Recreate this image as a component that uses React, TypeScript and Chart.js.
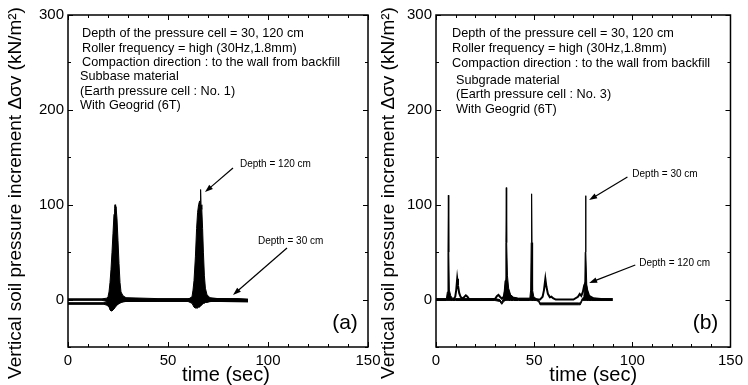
import React, { useEffect, useRef } from "react";
import { Chart, registerables } from "chart.js";

Chart.register(...registerables);

const FONT = '"Liberation Sans", Arial, Helvetica, sans-serif';

// ---- axes ----
const xMin = 0;
const xMax = 150;
const xStep = 10;
const xLabelValues = [0, 50, 100, 150];
const yMin = -50;
const yMax = 300;
const yStep = 50;
const yLabelValues = [0, 100, 200, 300];
const xTitle = "time (sec)";
const yTitle = "Vertical soil pressure increment Δσv (kN/m²)";

// ---- panel (a): envelope of dense oscillating records ----
const tA1 = [0, 17, 19.5, 20, 20.5, 21, 21.5, 22, 22.5, 23, 23.3, 23.5, 23.8, 24, 24.5, 25, 25.5, 26, 26.5, 27.5, 29, 45, 60, 63, 65, 67, 69, 72, 85, 90];
const hiA1 = [0.8, 0.8, 1.5, 3, 8, 18, 32, 50, 70, 90, 96, 100, 92, 98, 85, 62, 38, 18, 8, 4, 2, 1, 1, 2, 4, 3, 2, 1, 1, 0.5];
const loA1 = [-0.8, -0.8, -2, -4, -7, -11, -12, -12, -10, -8, -7, -7, -6, -6, -5, -5, -4, -4, -3, -2.5, -2, -1.5, -1.5, -3, -5, -4, -2.5, -2, -2, -2];

const tA2 = [0, 18, 19.5, 21, 22, 23, 24, 25, 26, 28, 40, 60, 62, 62.5, 63, 63.7, 64.3, 64.8, 65.3, 65.8, 66.1, 66.3, 66.5, 66.9, 67.3, 67.7, 68.2, 68.7, 69.5, 71, 75, 90];
const hiA2 = [-3.3, -3.3, -2.5, -1, 1, 2, 2, 2, 1, 0, 0, 0, 3, 10, 20, 45, 75, 92, 100, 104, 100, 116, 100, 95, 75, 50, 25, 12, 5, 2, 1, 0];
const loA2 = [-5, -5, -6, -9, -12, -10, -7, -5, -3, -2, -2, -2, -4, -6, -8, -9, -9, -9, -8, -8, -7, -7, -6, -6, -5, -4, -4, -3, -3, -2, -2, -2.5];

// ---- panel (b) ----
const tB30 = [0, 5.3, 5.8, 6.1, 6.3, 6.5, 6.8, 7.5, 8.3, 10, 30, 32.5, 33.5, 34.5, 35.2, 35.6, 35.8, 36.0, 36.4, 37, 38, 39.5, 42, 47.8, 48.2, 48.5, 48.7, 48.9, 49.2, 49.8, 51, 52.2, 53, 72.5, 73.5, 74.5, 75.3, 75.8, 76.0, 76.2, 76.4, 76.8, 77.5, 79, 82, 90];
const hiB30 = [1, 1, 8, 50, 110, 50, 10, 4, 1.5, 1, 1, 0, -3, 2, 20, 60, 118, 60, 25, 12, 5, 2.5, 1.5, 1.5, 10, 60, 111.5, 60, 10, 3, 1, 0, -3.5, -3.5, -3.5, 1, 3, 15, 50, 109.5, 50, 15, 5, 2, 1, 1];
const loB30 = [-1, -1, -1, -1, -1, -1, -1, -1, -1, -1, -1, -2, -5, -2, -1, -1, -1, -1, -1, -1, -1, -1, -1, -1, -1, -1, -1, -1, -1, -1, -1, -2, -5.5, -5.5, -5.5, -1, -1, -1, -1, -1, -1, -1, -1, -1, -1, -1];

const tB120 = [0, 8.8, 9.8, 10.3, 10.8, 11.2, 11.8, 12.5, 13.5, 14.5, 15.2, 16, 17, 25, 30, 31, 31.8, 32.6, 33.5, 34.5, 35.3, 35.8, 36.5, 37.5, 39, 42, 53, 54.3, 55.0, 55.7, 56.2, 57, 58, 58.8, 59.6, 61, 70, 72.3, 73.2, 74, 74.8, 75.5, 76.2, 77, 78, 80, 84, 90];
const vB120 = [0, 0, 3, 10, 22, 15, 7, 3, 1, 3, 4.5, 3, 0, 0, 0.5, 3.5, 5, 3, 1, 3, 10, 18, 10, 5, 2, 0.5, 0, 3, 10, 22, 14, 6, 2.5, 3, 1.5, 0, 0, 3, 6, 4, 8, 15, 18, 10, 4, 1.5, 0.5, 0];

// ---- annotations ----
const commonNotes = [
  "Depth of the pressure cell = 30, 120 cm",
  "Roller frequency = high (30Hz,1.8mm)",
  "Compaction direction : to the wall from backfill",
];
const notesA = [...commonNotes, "Subbase material", "(Earth pressure cell : No. 1)", "With Geogrid (6T)"];
const notesB = [...commonNotes, "Subgrade material", "(Earth pressure cell : No. 3)", "With Geogrid (6T)"];

type Arrow = { label: string; labelAt: [number, number]; from: [number, number]; to: [number, number] };
const arrowsA: Arrow[] = [
  { label: "Depth = 120 cm", labelAt: [86, 143], from: [82.5, 138.7], to: [68.5, 113.4] },
  { label: "Depth = 30 cm", labelAt: [95, 62], from: [109.5, 54.4], to: [82.5, 4.8] },
];
const arrowsB: Arrow[] = [
  { label: "Depth = 30 cm", labelAt: [100, 132.4], from: [97.5, 129.2], to: [78, 105] },
  { label: "Depth = 120 cm", labelAt: [103.5, 38.6], from: [101.5, 36.5], to: [78, 17.5] },
];

type PanelSpec = {
  tag: string;
  notes: string[];
  noteDx: number[];
  noteDy: number[];
  arrows: Arrow[];
  yTitleX: number;
  yTitleY: number;
  xTitleShift: number;
  tagDx: number;
  tagDy: number;
};

const pts = (t: number[], v: number[]) => t.map((x, i) => ({ x, y: v[i] }));

function decorPlugin(p: PanelSpec) {
  return {
    id: "decor" + p.tag.replace(/\W/g, ""),
    afterDraw(chart: any) {
      const { ctx, chartArea: ca } = chart;
      const xs = chart.scales.x;
      const ys = chart.scales.y;
      ctx.save();
      ctx.strokeStyle = "#000";
      ctx.fillStyle = "#000";
      // frame
      ctx.lineWidth = 1.5;
      ctx.strokeRect(ca.left, ca.top, ca.right - ca.left, ca.bottom - ca.top);
      // inward ticks
      ctx.lineWidth = 1;
      ctx.beginPath();
      xs.ticks.forEach((t: any) => {
        const px = Math.round(xs.getPixelForValue(t.value)) + 0.5;
        const len = t.value % 50 === 0 ? 5 : 3;
        ctx.moveTo(px, ca.bottom);
        ctx.lineTo(px, ca.bottom - len);
        ctx.moveTo(px, ca.top);
        ctx.lineTo(px, ca.top + len);
      });
      ys.ticks.forEach((t: any) => {
        const py = Math.round(ys.getPixelForValue(t.value)) + 0.5;
        const len = t.value % 100 === 0 ? 5 : 3;
        ctx.moveTo(ca.left, py);
        ctx.lineTo(ca.left + len, py);
        ctx.moveTo(ca.right, py);
        ctx.lineTo(ca.right - len, py);
      });
      ctx.stroke();
      // notes
      ctx.font = `12.7px ${FONT}`;
      ctx.textAlign = "left";
      ctx.textBaseline = "middle";
      p.notes.forEach((n, i) => ctx.fillText(n, ca.left + p.noteDx[i], ca.top + p.noteDy[i]));
      // arrows
      p.arrows.forEach((a) => {
        const x0 = xs.getPixelForValue(a.from[0]);
        const y0 = ys.getPixelForValue(a.from[1]);
        const x1 = xs.getPixelForValue(a.to[0]);
        const y1 = ys.getPixelForValue(a.to[1]);
        const ang = Math.atan2(y1 - y0, x1 - x0);
        const hl = 8;
        const hw = 2.8;
        ctx.lineWidth = 1.2;
        ctx.beginPath();
        ctx.moveTo(x0, y0);
        ctx.lineTo(x1 - Math.cos(ang) * hl * 0.8, y1 - Math.sin(ang) * hl * 0.8);
        ctx.stroke();
        ctx.beginPath();
        ctx.moveTo(x1, y1);
        ctx.lineTo(x1 - Math.cos(ang) * hl - Math.sin(ang) * hw, y1 - Math.sin(ang) * hl + Math.cos(ang) * hw);
        ctx.lineTo(x1 - Math.cos(ang) * hl + Math.sin(ang) * hw, y1 - Math.sin(ang) * hl - Math.cos(ang) * hw);
        ctx.closePath();
        ctx.fill();
        ctx.font = `10px ${FONT}`;
        ctx.textAlign = "left";
        ctx.fillText(a.label, xs.getPixelForValue(a.labelAt[0]), ys.getPixelForValue(a.labelAt[1]));
      });
      // panel tag
      ctx.font = `21px ${FONT}`;
      ctx.textAlign = "center";
      ctx.fillText(p.tag, ca.right + p.tagDx, ca.bottom + p.tagDy);
      // x title
      ctx.font = `20px ${FONT}`;
      ctx.fillText(xTitle, (ca.left + ca.right) / 2 + p.xTitleShift, 375);
      // y title
      ctx.translate(p.yTitleX, p.yTitleY);
      ctx.rotate(-Math.PI / 2);
      ctx.font = `19px ${FONT}`;
      ctx.fillText(yTitle, 0, 0);
      ctx.restore();
    },
  };
}

function makeConfig(datasets: any[], p: PanelSpec, yWidth: number, padRight: number) {
  return {
    type: "line",
    data: { datasets },
    options: {
      animation: false,
      responsive: false,
      maintainAspectRatio: false,
      devicePixelRatio: 1,
      layout: { padding: { top: 15, right: padRight, left: 0, bottom: 0 } },
      plugins: { legend: { display: false }, tooltip: { enabled: false } },
      elements: { point: { radius: 0 }, line: { tension: 0 } },
      scales: {
        x: {
          type: "linear",
          min: xMin,
          max: xMax,
          grid: { display: false, drawTicks: false },
          border: { display: false },
          afterFit: (s: any) => {
            s.height = 38;
          },
          ticks: {
            stepSize: xStep,
            autoSkip: false,
            maxRotation: 0,
            padding: 5,
            color: "#000",
            font: { family: FONT, size: 15 },
            callback: (v: any) => (xLabelValues.includes(Number(v)) ? String(v) : ""),
          },
        },
        y: {
          type: "linear",
          min: yMin,
          max: yMax,
          grid: { display: false, drawTicks: false },
          border: { display: false },
          afterFit: (s: any) => {
            s.width = yWidth;
          },
          ticks: {
            stepSize: yStep,
            autoSkip: false,
            padding: 4,
            color: "#000",
            font: { family: FONT, size: 15 },
            callback: (v: any) => (yLabelValues.includes(Number(v)) ? String(v) : ""),
          },
        },
      },
    },
    plugins: [decorPlugin(p)],
  };
}

const band = (t: number[], hi: number[], lo: number[], label: string) => [
  {
    label: label + " upper",
    data: pts(t, hi),
    borderColor: "#000",
    backgroundColor: "#000",
    borderWidth: 1,
    fill: "+1",
    pointRadius: 0,
  },
  {
    label: label + " lower",
    data: pts(t, lo),
    borderColor: "#000",
    borderWidth: 1,
    fill: false,
    pointRadius: 0,
  },
];

const panelA: PanelSpec = {
  tag: "(a)",
  notes: notesA,
  noteDx: [14, 14, 14, 12, 12, 12],
  noteDy: [18, 33, 47, 61, 76, 90],
  arrows: arrowsA,
  yTitleX: 16,
  yTitleY: 193,
  xTitleShift: 8,
  tagDx: -23,
  tagDy: -24,
};

const panelB: PanelSpec = {
  tag: "(b)",
  notes: notesB,
  noteDx: [16, 16, 16, 20, 20, 20],
  noteDy: [18, 33, 48, 65, 79, 94],
  arrows: arrowsB,
  yTitleX: 15,
  yTitleY: 193,
  xTitleShift: 10,
  tagDx: -25,
  tagDy: -24,
};

export default function App() {
  const refA = useRef<HTMLCanvasElement | null>(null);
  const refB = useRef<HTMLCanvasElement | null>(null);

  useEffect(() => {
    const dsA = [...band(tA1, hiA1, loA1, "Depth 30 cm"), ...band(tA2, hiA2, loA2, "Depth 120 cm")];
    const dsB = [
      ...band(tB30, hiB30, loB30, "Depth 30 cm"),
      {
        label: "Depth 120 cm",
        data: pts(tB120, vB120),
        borderColor: "#000",
        borderWidth: 2,
        fill: false,
        pointRadius: 0,
      },
    ];
    const a = new Chart(refA.current as HTMLCanvasElement, makeConfig(dsA, panelA, 68, 22) as any);
    const b = new Chart(refB.current as HTMLCanvasElement, makeConfig(dsB, panelB, 62, 12) as any);
    return () => {
      a.destroy();
      b.destroy();
    };
  }, []);

  return (
    <div style={{ position: "absolute", left: 0, top: 0, width: 748, height: 385, background: "#fff", overflow: "hidden" }}>
      <canvas ref={refA} width={390} height={385} style={{ position: "absolute", left: 0, top: 0, width: 390, height: 385 }} />
      <canvas ref={refB} width={374} height={385} style={{ position: "absolute", left: 374, top: 0, width: 374, height: 385 }} />
    </div>
  );
}
